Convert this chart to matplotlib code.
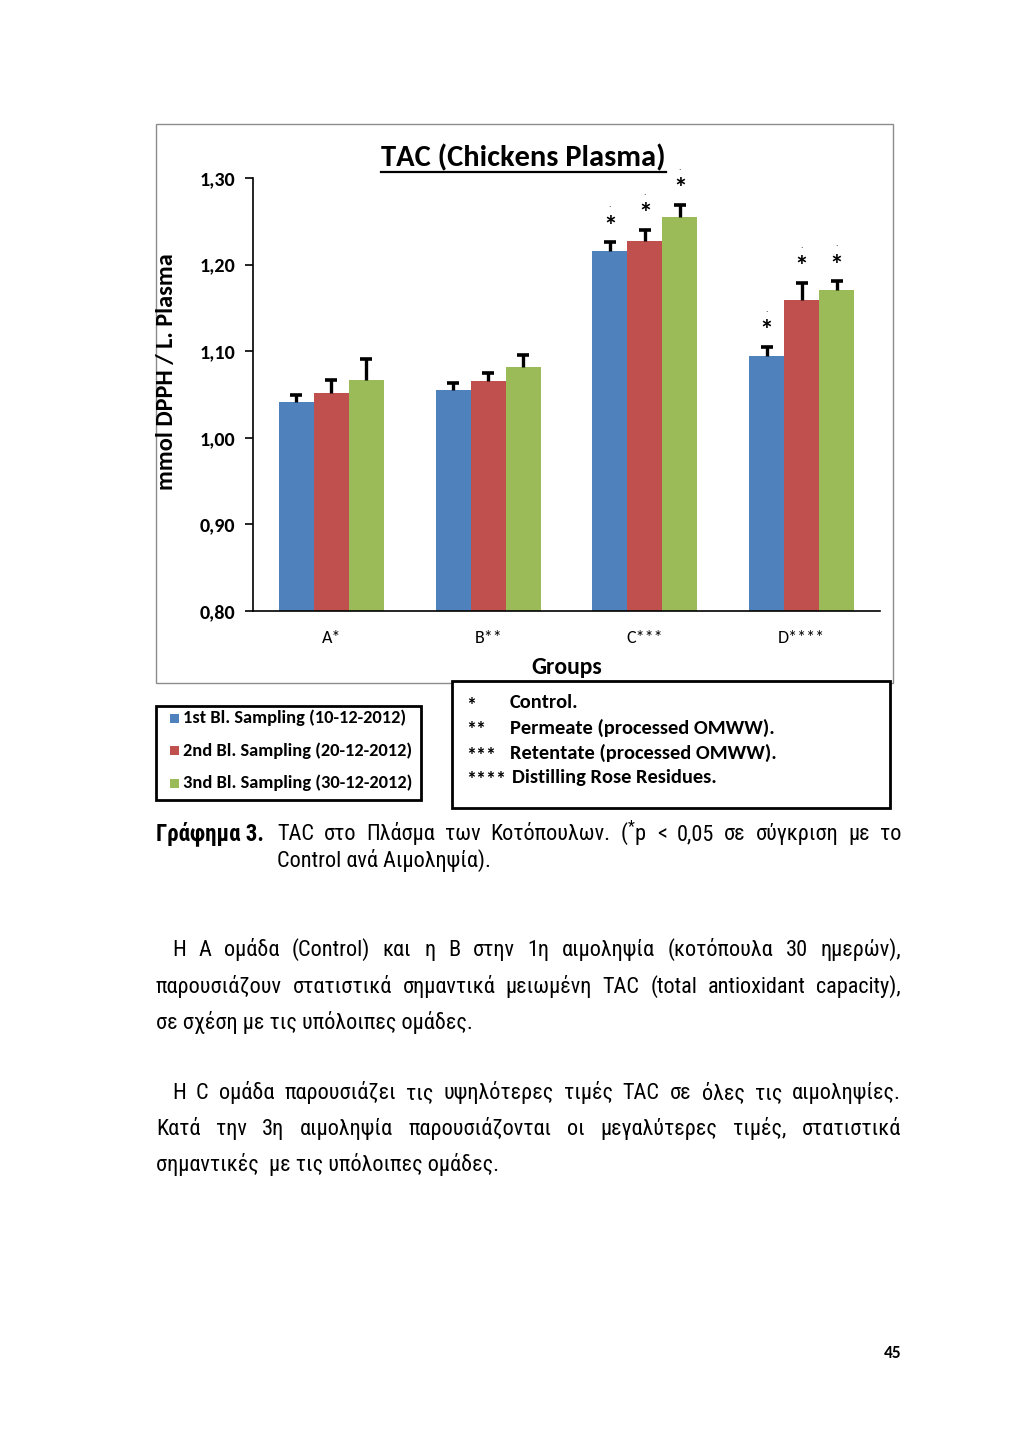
import matplotlib
matplotlib.use("Agg")
import matplotlib.pyplot as plt
from matplotlib.patches import Rectangle
from matplotlib.lines import Line2D
import numpy as np

# ---------------- data ----------------
groups = ["A*", "B**", "C***", "D****"]
series_names = ["1st Bl. Sampling (10-12-2012)",
                "2nd Bl. Sampling (20-12-2012)",
                "3nd Bl. Sampling (30-12-2012)"]
s1_vals = [1.041, 1.055, 1.216, 1.094]
s2_vals = [1.052, 1.066, 1.227, 1.159]
s3_vals = [1.067, 1.082, 1.255, 1.171]
s1_err = [0.008, 0.008, 0.010, 0.011]
s2_err = [0.015, 0.009, 0.013, 0.020]
s3_err = [0.024, 0.014, 0.014, 0.010]
s1_sig = [False, False, True, True]
s2_sig = [False, False, True, True]
s3_sig = [False, False, True, True]
yticks = [0.80, 0.90, 1.00, 1.10, 1.20, 1.30]
ytick_labels = ["0,80", "0,90", "1,00", "1,10", "1,20", "1,30"]
colors = ["#4F81BD", "#C0504D", "#9BBB59"]

legend2_keys = ["*", "**", "***", "****"]
legend2_texts = ["Control.", "Permeate (processed OMWW).",
                 "Retentate (processed OMWW).", "Distilling Rose Residues."]

W, H = 1024, 1447
plt.rcParams["mathtext.fontset"] = "custom"
plt.rcParams["mathtext.rm"] = "Roboto Condensed"
plt.rcParams["mathtext.it"] = "Roboto Condensed"

fig = plt.figure(figsize=(W / 100, H / 100), dpi=100)
fig.patch.set_facecolor("white")

CH = ["Carlito", "DejaVu Sans"]
BODY = ["Roboto Condensed", "DejaVu Sans"]


def fx(x):
    return x / W


def fy(y):
    return 1 - y / H


# outer chart border
fig.add_artist(Rectangle((fx(156), fy(683)), fx(893) - fx(156), fy(124) - fy(683),
                         transform=fig.transFigure, fill=False, edgecolor="#8c8c8c",
                         linewidth=1.0, zorder=0))

ax = fig.add_axes([fx(253), fy(611), fx(880) - fx(253), fy(178) - fy(611)])
ax.set_ylim(0.80, 1.30)
ax.set_xlim(-0.5, 3.5)
x = np.arange(len(groups))
bw = 0.223
vals = [s1_vals, s2_vals, s3_vals]
errs = [s1_err, s2_err, s3_err]
sigs = [s1_sig, s2_sig, s3_sig]
for i in range(3):
    xi = x + (i - 1) * bw
    v = np.array(vals[i])
    e = np.array(errs[i])
    ax.bar(xi, v - 0.80, bw, bottom=0.80, color=colors[i], zorder=2)
    ax.errorbar(xi, v, yerr=[np.zeros(len(groups)), e], fmt="none",
                ecolor="black", elinewidth=2.4, capsize=0, zorder=3)
    ax.plot(xi, v + e, linestyle="none", marker="_", markersize=9,
            markeredgewidth=2.6, color="black", zorder=3)
    for j in range(len(groups)):
        if sigs[i][j]:
            top = vals[i][j] + errs[i][j]
            ax.text(xi[j], top + 0.004, "*", ha="center", va="bottom",
                    fontsize=20, fontweight="bold", family=CH, zorder=4)
            ax.text(xi[j], top + 0.038, ".", ha="center", va="bottom",
                    fontsize=7, family=CH, zorder=4)

ax.spines["top"].set_visible(False)
ax.spines["right"].set_visible(False)
ax.spines["left"].set_linewidth(1.2)
ax.spines["bottom"].set_linewidth(1.2)
ax.set_yticks(yticks)
ax.set_yticklabels(ytick_labels, fontsize=14.5, fontweight="bold", family=CH)
ax.tick_params(axis="y", direction="out", length=6, width=1.2, pad=7)
ax.set_xticks(x)
ax.set_xticklabels(groups, fontsize=13, family=CH)
ax.tick_params(axis="x", length=0, pad=14)
ax.set_ylabel("mmol DPPH / L. Plasma", fontsize=17.5, fontweight="bold", family=CH)
ax.yaxis.set_label_coords((177 - 253) / (880 - 253), (611 - 372) / (611 - 178))

# title (underlined)
fig.text(fx(523), fy(158), "TAC (Chickens Plasma)", ha="center", va="center",
         fontsize=22, fontweight="bold", family=CH)
fig.add_artist(Line2D([fx(381), fx(666)], [fy(172), fy(172)], color="black",
                      linewidth=1.6, transform=fig.transFigure))
fig.text(fx(567), fy(668), "Groups", ha="center", va="center", fontsize=17,
         fontweight="bold", family=CH)

# legend 1
fig.add_artist(Rectangle((fx(156), fy(800)), fx(421) - fx(156), fy(706) - fy(800),
                         transform=fig.transFigure, facecolor="white", edgecolor="black",
                         linewidth=2.0, zorder=5))
for i, name in enumerate(series_names):
    yy = 718 + i * 32.5
    fig.add_artist(Rectangle((fx(170), fy(yy + 4.5)), fx(9), fx(9) * W / H,
                             transform=fig.transFigure, facecolor=colors[i],
                             edgecolor="none", zorder=6))
    fig.text(fx(183), fy(yy), name, ha="left", va="center", fontsize=13.2,
             fontweight="bold", family=CH, zorder=6)

# legend 2
fig.add_artist(Rectangle((fx(452), fy(808)), fx(890) - fx(452), fy(681) - fy(808),
                         transform=fig.transFigure, facecolor="white", edgecolor="black",
                         linewidth=2.0, zorder=5))
for i, (k, txt) in enumerate(zip(legend2_keys, legend2_texts)):
    yy = 703 + i * 25
    fig.text(fx(466), fy(yy + 2), k, ha="left", va="center", fontsize=14.5,
             fontweight="bold", family=CH, zorder=6)
    fig.text(fx(510 if i < 3 else 512), fy(yy), txt, ha="left", va="center",
             fontsize=14.8, fontweight="bold", family=CH, zorder=6)

# ---------------- body text ----------------
renderer = fig.canvas.get_renderer()


def justify(words, y, x0, x1, size, weight="normal", family=BODY):
    objs = [fig.text(fx(x0), fy(y), w, ha="left", va="baseline", fontsize=size,
                     fontweight=weight, family=family) for w in words]
    widths = [o.get_window_extent(renderer).width for o in objs]
    gap = (x1 - x0 - sum(widths)) / max(len(words) - 1, 1)
    cur = x0
    for o, wd in zip(objs, widths):
        o.set_x(fx(cur))
        cur += wd + gap


def line(txt, y, x0, size, weight="normal", family=BODY):
    fig.text(fx(x0), fy(y), txt, ha="left", va="baseline", fontsize=size,
             fontweight=weight, family=family)


FS = 16
line("Γράφημα 3.", 840, 156, FS + 0.5, weight="bold")
justify("ΤAC στο Πλάσμα των Κοτόπουλων. ($^{*}$p < 0,05 σε σύγκριση με το".split(" "),
        840, 277, 901, FS)
line("Control ανά Αιμοληψία).", 867, 277, FS)

justify("Η Α ομάδα (Control) και η Β στην 1η αιμοληψία (κοτόπουλα 30 ημερών),".split(" "),
        956, 172, 901, FS)
justify("παρουσιάζουν στατιστικά σημαντικά μειωμένη TAC (total antioxidant capacity),".split(" "),
        993, 156, 901, FS)
line("σε σχέση με τις υπόλοιπες ομάδες.", 1029, 156, FS)

justify("Η C ομάδα παρουσιάζει τις υψηλότερες τιμές TAC σε όλες τις αιμοληψίες.".split(" "),
        1099, 172, 901, FS)
justify("Κατά την 3η αιμοληψία παρουσιάζονται οι μεγαλύτερες τιμές, στατιστικά".split(" "),
        1135, 156, 901, FS)
line("σημαντικές  με τις υπόλοιπες ομάδες.", 1171, 156, FS)

fig.text(fx(902), fy(1358), "45", ha="right", va="baseline", fontsize=12.5,
         fontweight="bold", family=CH)

fig.savefig("out.png", dpi=100, facecolor="white")
